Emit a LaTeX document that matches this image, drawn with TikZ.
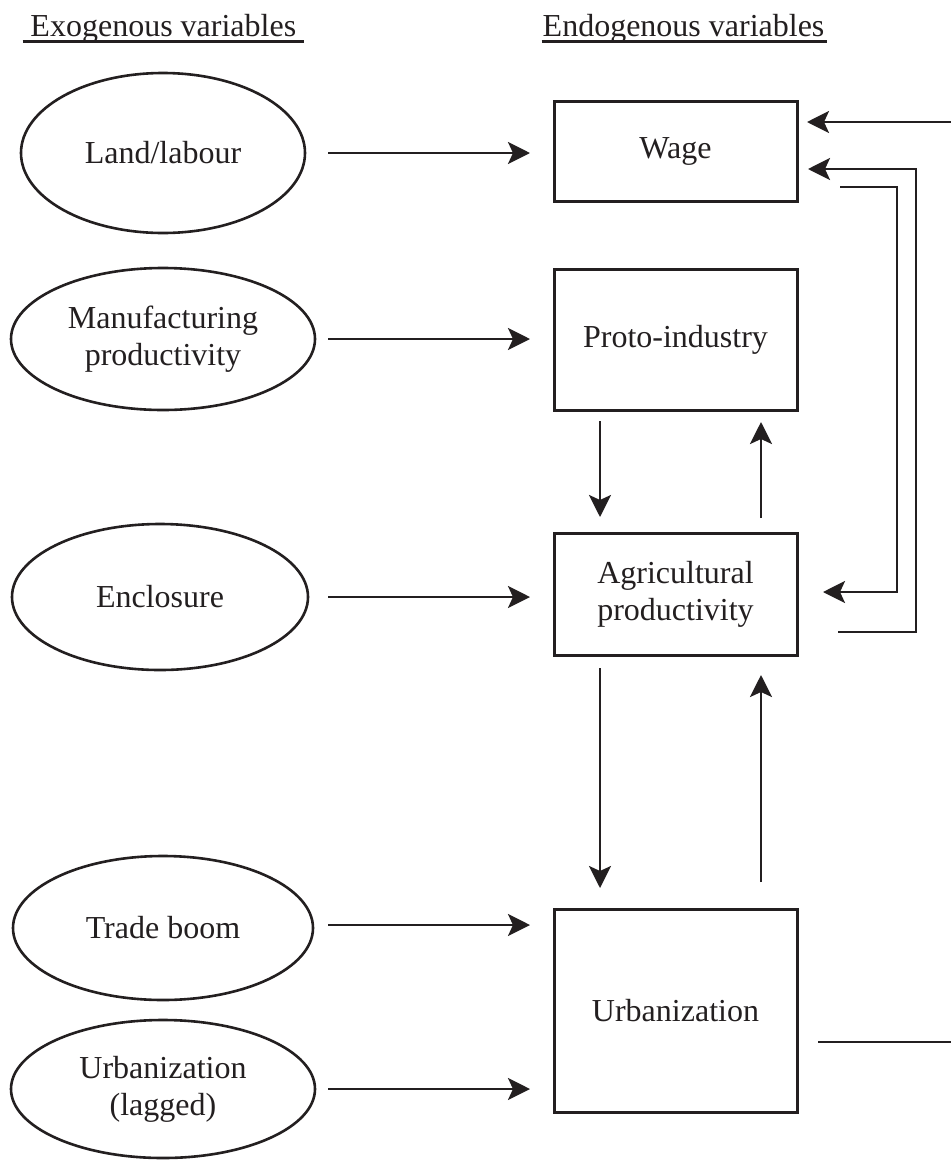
\documentclass[tikz,border=0pt]{standalone}
\usepackage{fontspec}
\setmainfont{Liberation Serif}
\usetikzlibrary{arrows.meta,shapes.geometric}
\definecolor{ink}{RGB}{35,31,32}
\begin{document}
\begin{tikzpicture}[x=1pt,y=-1pt,
  every node/.style={font=\fontsize{32}{37}\selectfont, text=ink},
  exo/.style={ellipse, draw=ink, line width=2.6pt, inner sep=0pt, outer sep=0pt, align=center},
  endo/.style={rectangle, draw=ink, line width=3pt, inner sep=0pt, outer sep=0pt, align=center, minimum width=243pt},
  arr/.style={draw=ink, line width=2.8pt, -{Stealth[length=22pt,width=22pt,inset=5pt]}},
  ln/.style={draw=ink, line width=2.8pt},
  uline/.style={draw=ink, line width=2.5pt},
  hdr/.style={inner sep=0pt, outer sep=0pt, anchor=base west}]
\useasboundingbox (0,0) rectangle (951,1160);
\fill[white] (0,0) rectangle (951,1160);

% headers
\node[hdr] (exoh) at (30.5,36.7) {Exogenous variables};
\node[hdr] (endoh) at (542.7,36.7) {Endogenous variables};
\draw[uline] ([xshift=-8pt,yshift=-5pt]exoh.base west) -- ([xshift=8pt,yshift=-5pt]exoh.base east);
\draw[uline] ([xshift=-1pt,yshift=-5pt]endoh.base west) -- ([xshift=3pt,yshift=-5pt]endoh.base east);

% exogenous
\node[exo, minimum width=284pt, minimum height=160pt] (land) at (163,153) {Land/labour};
\node[exo, minimum width=304pt, minimum height=142pt] (manu) at (163,339) {Manufacturing\\productivity};
\node[exo, minimum width=296pt, minimum height=146pt] (encl) at (160,597) {Enclosure};
\node[exo, minimum width=300pt, minimum height=144pt] (trade) at (163,928) {Trade boom};
\node[exo, minimum width=304pt, minimum height=138pt] (lag) at (163,1089) {Urbanization\\(lagged)};

% endogenous
\node[endo, minimum height=100pt] (wage) at (675.5,151) {Wage};
\node[endo, minimum height=141pt] (proto) at (675.5,339.5) {Proto-industry};
\node[endo, minimum height=122pt] (agri) at (675.5,594) {Agricultural\\productivity};
\node[endo, minimum height=203pt] (urb) at (675.5,1010.5) {Urbanization};

\coordinate (r1) at (897,0);
\coordinate (r2) at (916,0);
\coordinate (edge) at (951,0);

% exogenous -> endogenous
\draw[arr, shorten <=23pt, shorten >=24pt] (land.east) -- (land.east -| wage.west);
\draw[arr, shorten <=13pt, shorten >=24pt] (manu.east) -- (manu.east -| proto.west);
\draw[arr, shorten <=20pt, shorten >=24pt] (encl.east) -- (encl.east -| agri.west);
\draw[arr, shorten <=15pt, shorten >=24pt] ([yshift=3pt]trade.east) -- ([yshift=3pt]trade.east -| urb.west);
\draw[arr, shorten <=13pt, shorten >=24pt] (lag.east) -- (lag.east -| urb.west);

% vertical
\draw[arr, shorten <=11pt, shorten >=16pt] ([xshift=-75.5pt]proto.south) -- ([xshift=-75.5pt]agri.north);
\draw[arr, shorten <=15pt, shorten >=12pt] ([xshift=85.5pt]agri.north) -- ([xshift=85.5pt]proto.south);
\draw[arr, shorten <=13pt, shorten >=21pt] ([xshift=-75.5pt]agri.south) -- ([xshift=-75.5pt]urb.north);
\draw[arr, shorten <=27pt, shorten >=20pt] ([xshift=85.5pt]urb.north) -- ([xshift=85.5pt]agri.south);

% feedback loops
\draw[arr, shorten <=41pt, shorten >=11pt] ([yshift=-38pt]agri.east) -- ([yshift=-38pt]agri.east -| r2) -- ([yshift=-18pt]wage.east -| r2) -- ([yshift=-18pt]wage.east);
\draw[arr, shorten <=43pt, shorten >=26pt] ([yshift=-36pt]wage.east) -- ([yshift=-36pt]wage.east -| r1) -- ([yshift=2pt]agri.east -| r1) -- ([yshift=2pt]agri.east);
\draw[ln, shorten <=21pt] ([yshift=-31.5pt]urb.east) -- ([yshift=-31.5pt]urb.east -| edge);
\draw[arr, shorten >=10pt] ([yshift=29pt]wage.east -| edge) -- ([yshift=29pt]wage.east);
\end{tikzpicture}
\end{document}
